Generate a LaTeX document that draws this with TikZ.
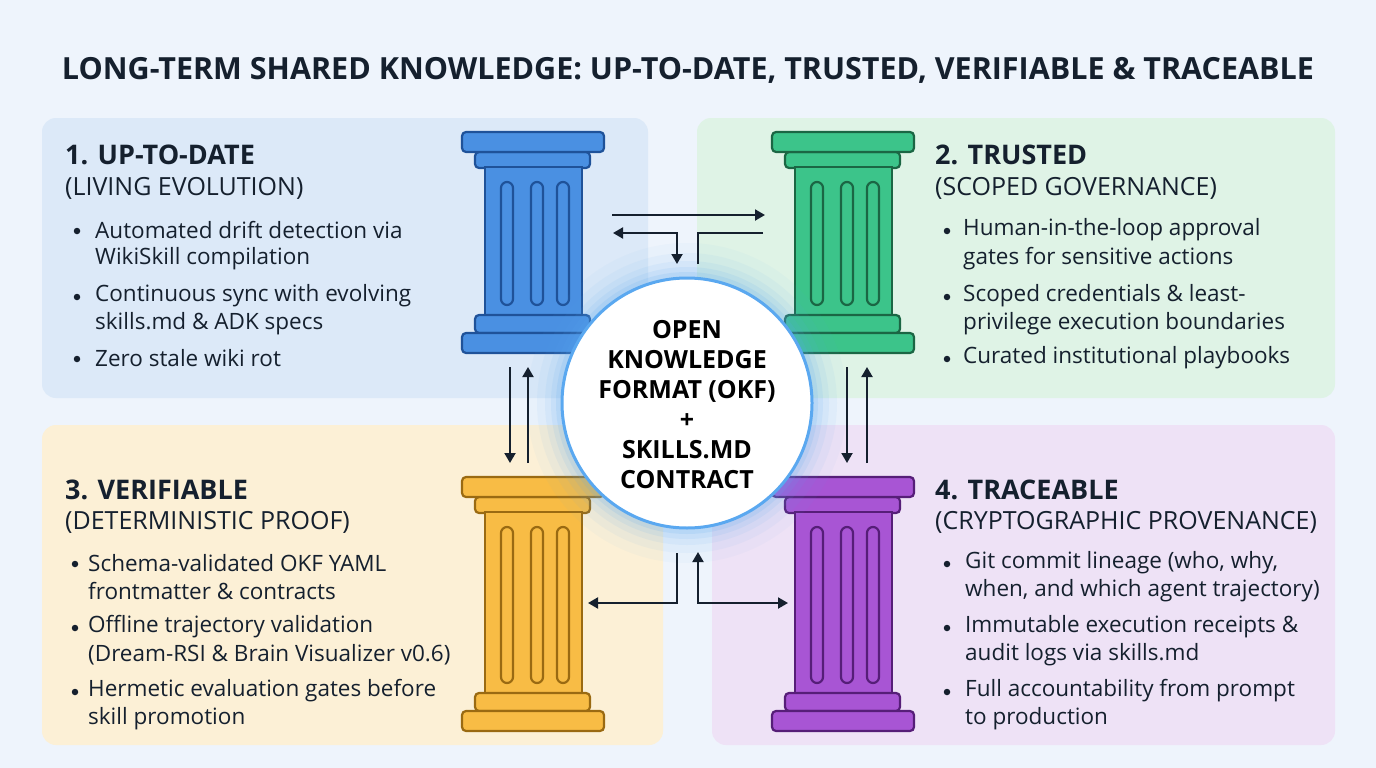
\documentclass[tikz,border=0pt]{standalone}
\usepackage{fontspec}
\setmainfont{Open Sans}
\usetikzlibrary{arrows.meta}

\definecolor{bgpage}{HTML}{EEF4FC}
\definecolor{panelblue}{HTML}{DCE9F8}
\definecolor{panelgreen}{HTML}{DFF3E6}
\definecolor{panelyellow}{HTML}{FCF0D6}
\definecolor{panelpurple}{HTML}{EEE2F6}
\definecolor{pblue}{HTML}{4A90E2}
\definecolor{pbluedk}{HTML}{1F5299}
\definecolor{pgreen}{HTML}{3CC48A}
\definecolor{pgreendk}{HTML}{1B6644}
\definecolor{pyellow}{HTML}{F8BC45}
\definecolor{pyellowdk}{HTML}{9A6A12}
\definecolor{ppurple}{HTML}{A855D4}
\definecolor{ppurpledk}{HTML}{561E78}
\definecolor{inkdk}{HTML}{15202E}
\definecolor{ringblue}{HTML}{5AA8F0}

% pillar: x, y (top left), shaft length, fill, draw
\newcommand\pillar[5]{%
  \begin{scope}[shift={(#1,#2)}, fill=#4, draw=#5, line width=2.2pt]
    \filldraw[rounded corners=4] (13,20) rectangle (128,36);
    \filldraw (23,35) rectangle (120,35+#3);
    \foreach \fx in {39,69,95}
      \filldraw[rounded corners=6] (\fx,50) rectangle (\fx+12,#3+20);
    \filldraw[rounded corners=4] (13,30+#3) rectangle (128,48+#3);
    \filldraw[rounded corners=4] (0,48+#3) rectangle (142,68+#3);
    \filldraw[rounded corners=4] (0,0) rectangle (142,20);
  \end{scope}}

\tikzset{
  panel/.style={rounded corners=14, draw=none},
  heading/.style={anchor=west, font=\bfseries\fontsize{27}{30}\selectfont, text=inkdk, inner sep=0},
  subhead/.style={anchor=west, font=\fontsize{25}{28}\selectfont, text=inkdk, inner sep=0},
  item/.style={anchor=west, font=\fontsize{22.5}{26}\selectfont, text=inkdk, inner sep=0},
  dot/.style={circle, fill=inkdk, inner sep=0, minimum size=6.5pt},
  flow/.style={line width=2pt, draw=inkdk, -{Triangle[length=10pt,width=11pt]}},
  flowboth/.style={flow, {Triangle[length=10pt,width=11pt]}-{Triangle[length=10pt,width=11pt]}},
  flowplain/.style={line width=2pt, draw=inkdk},
}

\begin{document}
\begin{tikzpicture}[x=1pt, y=-1pt]
\fill[bgpage] (0,0) rectangle (1376,768);
\useasboundingbox (0,0) rectangle (1376,768);

\node[font=\bfseries\fontsize{30.5}{34}\selectfont, text=inkdk] (title) at (688,70)
  {LONG-TERM SHARED KNOWLEDGE: UP-TO-DATE, TRUSTED, VERIFIABLE \& TRACEABLE};

% panels
\fill[panel, panelblue] (42,118) rectangle (648,398);
\fill[panel, panelgreen] (697,118) rectangle (1335,398);
\fill[panel, panelyellow] (42,425) rectangle (663,745);
\fill[panel, panelpurple] (712,425) rectangle (1335,745);

% pillars
\pillar{462}{132}{153}{pblue}{pbluedk}
\pillar{772}{132}{153}{pgreen}{pgreendk}
\pillar{462}{477}{186}{pyellow}{pyellowdk}
\pillar{772}{477}{186}{ppurple}{ppurpledk}

% hub
\foreach \r/\o in {160/0.04,150/0.06,142/0.08,136/0.10,131/0.14}
  \fill[ringblue, opacity=\o] (687,403) circle (\r);
\node[circle, minimum size=250pt, fill=white, draw=ringblue, line width=3pt] (hub) at (687,403) {};
\node[align=center, font=\bfseries\fontsize{25}{30}\selectfont, text=black] (hubtext) at (687,405)
  {OPEN\\KNOWLEDGE\\FORMAT (OKF)\\+\\SKILLS.MD\\CONTRACT};

% connectors
\coordinate (tA) at (612,215); \coordinate (tB) at (765,215);
\coordinate (tC) at (613,233); \coordinate (tD) at (677,233); \coordinate (tE) at (677,264);
\coordinate (tF) at (763,233); \coordinate (tG) at (698,233); \coordinate (tH) at (698,264);
\draw[flow] (tA) -- (tB);
\draw[flowboth] (tC) -- (tD) -- (tE);
\draw[flowplain] (tF) -- (tG) -- (tH);

\coordinate (lA) at (510,367); \coordinate (lB) at (510,463);
\coordinate (lC) at (528,463); \coordinate (lD) at (528,367);
\draw[flow] (lA) -- (lB);
\draw[flow] (lC) -- (lD);
\coordinate (rA) at (847,367); \coordinate (rB) at (847,463);
\coordinate (rC) at (867,463); \coordinate (rD) at (867,367);
\draw[flow] (rA) -- (rB);
\draw[flow] (rC) -- (rD);

\coordinate (bA) at (677,553); \coordinate (bB) at (677,603); \coordinate (bC) at (588,603);
\coordinate (bD) at (698,552); \coordinate (bE) at (698,603); \coordinate (bF) at (788,603);
\draw[flow] (bA) -- (bB) -- (bC);
\draw[flowboth] (bD) -- (bE) -- (bF);

% 1. up-to-date
\node[heading] (h1) at (65,155) {1. UP-TO-DATE};
\node[subhead] (s1) at (65,188) {(LIVING EVOLUTION)};
\node[dot] (d1a) at (77,231) {}; \node[item] (i1a) at (95,230) {Automated drift detection via};
\node[item] (i1b) at (95,259) {WikiSkill compilation};
\node[dot] (d1b) at (77,297) {}; \node[item] (i1c) at (95,296) {Continuous sync with evolving};
\node[item] (i1d) at (95,324) {skills.md \& ADK specs};
\node[dot] (d1c) at (77,359) {}; \node[item] (i1e) at (95,358) {Zero stale wiki rot};

% 2. trusted
\node[heading] (h2) at (935,155) {2. TRUSTED};
\node[subhead] (s2) at (935,188) {(SCOPED GOVERNANCE)};
\node[dot] (d2a) at (947,231) {}; \node[item] (i2a) at (963,230) {Human-in-the-loop approval};
\node[item] (i2b) at (963,259) {gates for sensitive actions};
\node[dot] (d2b) at (947,297) {}; \node[item] (i2c) at (963,296) {Scoped credentials \& least-};
\node[item] (i2d) at (963,324) {privilege execution boundaries};
\node[dot] (d2c) at (947,359) {}; \node[item] (i2e) at (963,358) {Curated institutional playbooks};

% 3. verifiable
\node[heading] (h3) at (65,490) {3. VERIFIABLE};
\node[subhead] (s3) at (65,522) {(DETERMINISTIC PROOF)};
\node[dot] (d3a) at (75,564) {}; \node[item] (i3a) at (88,563) {Schema-validated OKF YAML};
\node[item] (i3b) at (88,591) {frontmatter \& contracts};
\node[dot] (d3b) at (75,628) {}; \node[item] (i3c) at (88,627) {Offline trajectory validation};
\node[item] (i3d) at (88,655) {(Dream-RSI \& Brain Visualizer v0.6)};
\node[dot] (d3c) at (75,692) {}; \node[item] (i3e) at (88,691) {Hermetic evaluation gates before};
\node[item] (i3f) at (88,719) {skill promotion};

% 4. traceable
\node[heading] (h4) at (935,490) {4. TRACEABLE};
\node[subhead] (s4) at (935,522) {(CRYPTOGRAPHIC PROVENANCE)};
\node[dot] (d4a) at (947,564) {}; \node[item] (i4a) at (965,563) {Git commit lineage (who, why,};
\node[item] (i4b) at (965,591) {when, and which agent trajectory)};
\node[dot] (d4b) at (947,628) {}; \node[item] (i4c) at (965,627) {Immutable execution receipts \&};
\node[item] (i4d) at (965,655) {audit logs via skills.md};
\node[dot] (d4c) at (947,692) {}; \node[item] (i4e) at (965,691) {Full accountability from prompt};
\node[item] (i4f) at (965,719) {to production};
\end{tikzpicture}
\end{document}
